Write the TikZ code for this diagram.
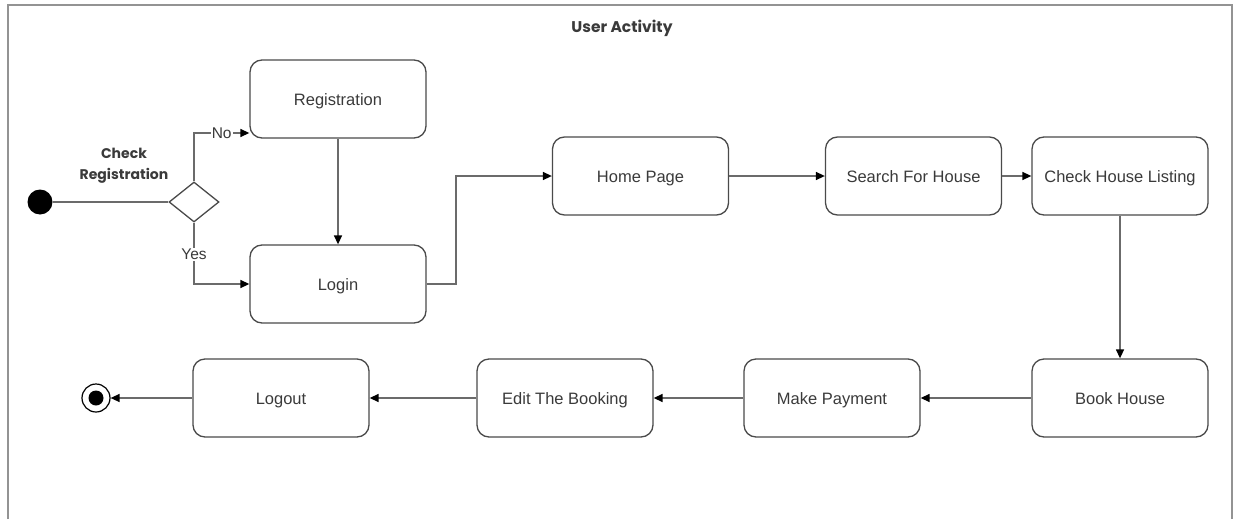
\documentclass[tikz,border=0pt]{standalone}
\usepackage{fontspec}
\setmainfont{Liberation Sans}
\newfontfamily\titlefont{Poppins}
\usetikzlibrary{arrows.meta,shapes.geometric}
\definecolor{lineg}{HTML}{6B6B6B}
\definecolor{boxg}{HTML}{4A4A4A}
\definecolor{txtg}{HTML}{3A3A3A}
\begin{document}
\begin{tikzpicture}[x=1pt,y=-1pt,
  act/.style={draw=boxg,line width=1.3pt,rounded corners=12pt,minimum width=176pt,minimum height=78pt,inner sep=0pt,font=\fontsize{16.5}{19}\selectfont,text=txtg,text height=16pt,text depth=3.5pt},
  conn/.style={draw=lineg,line width=1.4pt,-{Triangle[length=9pt,width=8pt,black]}},
  plain/.style={draw=lineg,line width=1.4pt},
  lbl/.style={font=\fontsize{15.5}{17}\selectfont,text=txtg,fill=white,inner sep=1pt}]
\useasboundingbox (0,0) rectangle (1233,519);
% frame
\draw[draw=gray!85,line width=2pt] (8,519) -- (8,5) -- (1232,5) -- (1232,519);
\node[font=\titlefont\bfseries\fontsize{15.5}{18}\selectfont,text=txtg] (title) at (622,28) {User Activity};
% nodes
\node[act] (reg) at (338,99) {Registration};
\node[act] (login) at (338,284) {Login};
\node[act] (home) at (640.5,176) {Home Page};
\node[act] (search) at (913.5,176) {Search For House};
\node[act] (check) at (1120,176) {Check House Listing};
\node[act] (book) at (1120,398) {Book House};
\node[act] (pay) at (832,398) {Make Payment};
\node[act] (edit) at (565,398) {Edit The Booking};
\node[act] (logout) at (281,398) {Logout};
\node[circle,fill=black,minimum size=25pt,inner sep=0pt] (start) at (40,202) {};
\node[diamond,draw=boxg,line width=1.3pt,fill=white,minimum width=50pt,minimum height=40pt,inner sep=0pt,aspect=1.25] (dec) at (194,202) {};
\node[font=\titlefont\bfseries\fontsize{14}{21}\selectfont,text=txtg,align=center] (declbl) at (124,166) {Check\\Registration};
\node[circle,draw=black,line width=1.2pt,minimum size=28pt,inner sep=0pt] (end) at (96,398) {};
\node[circle,fill=black,minimum size=15pt,inner sep=0pt] (endin) at (96,398) {};
% connectors
\draw[plain] (start) -- (dec);
\coordinate (noturn) at (194,133);
\coordinate (nodest) at (reg.west |- noturn);
\draw[conn] (dec.north) -- (noturn) -- node[lbl,pos=0.5] {No} (nodest);
\coordinate (yesturn) at (194,284);
\draw[conn] (dec.south) -- node[lbl,pos=0.52] {Yes} (yesturn) -- (login.west);
\draw[conn] (reg.south) -- (login.north);
\coordinate (lh1) at (456,284);
\coordinate (lh2) at (456,176);
\draw[conn] (login.east) -- (lh1) -- (lh2) -- (home.west);
\draw[conn] (home.east) -- (search.west);
\draw[conn] (search.east) -- (check.west);
\draw[conn] (check.south) -- (book.north);
\draw[conn] (book.west) -- (pay.east);
\draw[conn] (pay.west) -- (edit.east);
\draw[conn] (edit.west) -- (logout.east);
\draw[conn] (logout.west) -- (end.east);
\end{tikzpicture}
\end{document}
